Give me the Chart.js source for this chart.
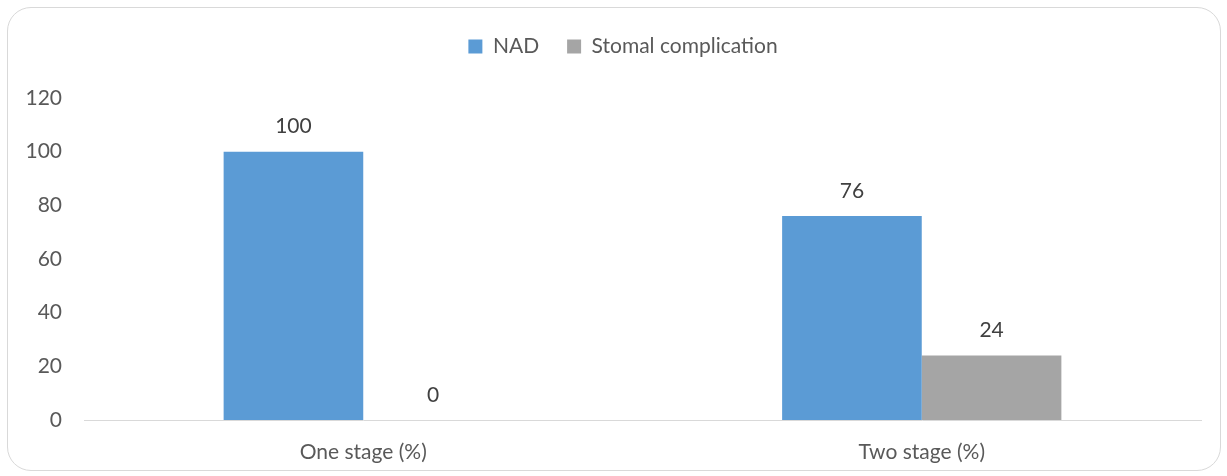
<!DOCTYPE html>
<html>
<head>
<meta charset="utf-8">
<script src="https://cdn.jsdelivr.net/npm/chart.js@4.4.0/dist/chart.umd.min.js"></script>
<style>
  body { margin: 0; background: #fff; }
  #caja {
    position: absolute; left: 7px; top: 7px; width: 1214px; height: 464px;
    border: 1px solid #d9d9d9; border-radius: 24px; box-sizing: border-box;
  }
  #grafico { width: 100%; height: 100%; }
</style>
</head>
<body>
<div id="caja"><canvas id="grafico"></canvas></div>
<script>
// datos del grafico
var categorias = ['One stage (%)', 'Two stage (%)'];
var nad = [100, 76];
var complicacion = [0, 24];
var ticksY = [0, 20, 40, 60, 80, 100, 120];

var fuente = 'Lato, "Open Sans", sans-serif';

// etiquetas encima de cada barra
var etiquetas = {
    id: 'etiquetas',
    afterDatasetsDraw: function(chart) {
        var ctx = chart.ctx;
        ctx.save();
        ctx.font = '21px ' + fuente;
        ctx.fillStyle = '#404040';
        ctx.textAlign = 'center';
        ctx.textBaseline = 'middle';
        chart.data.datasets.forEach(function(ds, i) {
            chart.getDatasetMeta(i).data.forEach(function(bar, j) {
                ctx.fillText(ds.data[j], bar.x, bar.y - 25);
            });
        });
        ctx.restore();
    }
};

// mas espacio debajo de la leyenda y leyenda un poco a la derecha
var espacioLeyenda = {
    id: 'espacioLeyenda',
    beforeInit: function(chart) {
        var fitOriginal = chart.legend.fit;
        chart.legend.fit = function() {
            fitOriginal.call(this);
            this.height += 31;
        };
    },
    afterLayout: function(chart) {
        chart.legend.left += 37;
    }
};

new Chart(document.getElementById('grafico'), {
    type: 'bar',
    data: {
        labels: categorias,
        datasets: [
            { label: 'NAD', data: nad, backgroundColor: '#5b9bd5' },
            { label: 'Stomal complication', data: complicacion, backgroundColor: '#a5a5a5' }
        ]
    },
    plugins: [etiquetas, espacioLeyenda],
    options: {
        responsive: true,
        maintainAspectRatio: false,
        animation: false,
        datasets: { bar: { barPercentage: 1, categoryPercentage: 0.5 } },
        layout: { padding: { left: 0, right: 19, top: 0, bottom: 0 } },
        plugins: {
            tooltip: { enabled: false },
            legend: {
                position: 'top',
                labels: {
                    boxWidth: 14, boxHeight: 14, padding: 28,
                    color: '#595959',
                    font: { family: fuente, size: 21 }
                }
            }
        },
        scales: {
            x: {
                grid: { display: false, drawTicks: false },
                border: { display: true, color: '#d9d9d9', width: 1 },
                ticks: { color: '#595959', padding: 20, font: { family: fuente, size: 21 } },
                afterFit: function(scale) { scale.height = 50; }
            },
            y: {
                min: 0, max: 120,
                grid: { display: false, drawTicks: false },
                border: { display: false },
                afterBuildTicks: function(scale) {
                    scale.ticks = ticksY.map(function(v) { return { value: v }; });
                },
                ticks: { color: '#595959', padding: 22, font: { family: fuente, size: 21 } },
                afterFit: function(scale) { scale.width = 76; }
            }
        }
    }
});
</script>
</body>
</html>
